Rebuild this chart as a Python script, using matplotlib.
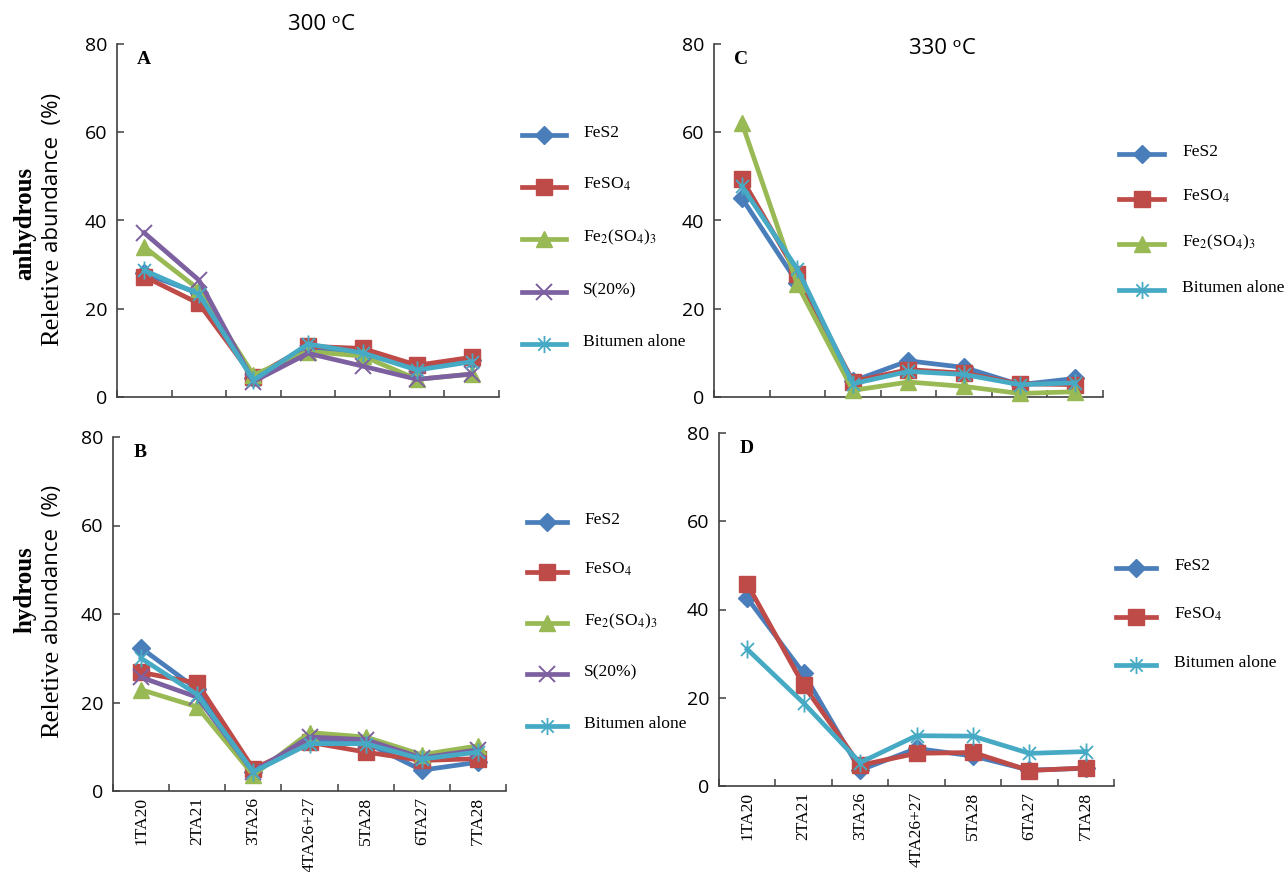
import numpy as np
import matplotlib
matplotlib.use("Agg")
import matplotlib.pyplot as plt
from matplotlib.path import Path
from matplotlib.lines import Line2D

plt.rcParams['mathtext.fontset'] = 'stix'

# ---- data -------------------------------------------------------------
categories = ['1TA20', '2TA21', '3TA26', '4TA26+27', '5TA28', '6TA27', '7TA28']

# 300 °C, anhydrous (A)
fes2_a = [28.0, 23.5, 4.2, 11.0, 9.9, 6.5, 8.4]
feso4_a = [27.3, 21.2, 4.5, 11.5, 11.0, 7.2, 9.0]
fe2so43_a = [34.0, 24.4, 5.0, 10.3, 9.3, 4.0, 5.2]
s20_a = [37.2, 26.5, 3.5, 9.9, 7.0, 4.0, 5.2]
bitumen_a = [28.7, 23.3, 3.8, 12.0, 10.0, 6.1, 8.0]

# 300 °C, hydrous (B)
fes2_b = [32.3, 23.0, 4.3, 11.8, 11.0, 4.7, 6.5]
feso4_b = [26.8, 24.4, 5.0, 11.0, 8.8, 6.9, 7.3]
fe2so43_b = [22.9, 19.0, 3.6, 13.2, 12.2, 8.2, 10.2]
s20_b = [25.7, 21.2, 4.3, 12.2, 11.6, 7.5, 9.3]
bitumen_b = [30.0, 21.8, 4.3, 10.7, 10.7, 7.2, 8.8]

# 330 °C, anhydrous (C)
fes2_c = [45.1, 25.9, 3.6, 8.2, 6.7, 2.8, 4.2]
feso4_c = [49.5, 27.8, 3.5, 6.2, 5.4, 3.0, 2.8]
fe2so43_c = [62.2, 25.5, 1.5, 3.4, 2.4, 0.8, 1.2]
bitumen_c = [47.8, 29.0, 3.0, 5.8, 5.1, 2.8, 3.2]

# 330 °C, hydrous (D)
fes2_d = [42.6, 25.5, 3.6, 8.5, 6.8, 3.6, 4.0]
feso4_d = [45.8, 22.8, 4.7, 7.4, 7.6, 3.5, 4.1]
bitumen_d = [31.0, 18.8, 5.3, 11.4, 11.3, 7.4, 7.8]

y_ticks = [0, 20, 40, 60, 80]

# ---- styles -----------------------------------------------------------
star = Path([(0, -1), (0, 1), (-0.72, -0.72), (0.72, 0.72), (-0.72, 0.72), (0.72, -0.72)],
            [Path.MOVETO, Path.LINETO, Path.MOVETO, Path.LINETO, Path.MOVETO, Path.LINETO])

styles = {
    'FeS2': dict(color='#4A7EBB', marker='D', ms=9.5, mew=1.0),
    'FeSO4': dict(color='#BE4B48', marker='s', ms=11.5, mew=1.0),
    'Fe2(SO4)3': dict(color='#98B954', marker='^', ms=11.5, mew=1.0),
    'S(20%)': dict(color='#7D60A0', marker='x', ms=12, mew=1.4),
    'Bitumen alone': dict(color='#46AAC5', marker=star, ms=13, mew=1.3),
}
labels = {
    'FeS2': 'FeS2',
    'FeSO4': r'FeSO$_4$',
    'Fe2(SO4)3': r'Fe$_2$(SO$_4$)$_3$',
    'S(20%)': 'S(20%)',
    'Bitumen alone': 'Bitumen alone',
}

W, H = 1286, 872
SANS = ['Open Sans', 'DejaVu Sans']
SERIF = ['Liberation Serif', 'DejaVu Serif']
LW = 3.4


def rect(l, r, t, b):
    return [l / W, 1 - b / H, (r - l) / W, (b - t) / H]


def fx(x):
    return x / W


def fy(y):
    return 1 - y / H


fig = plt.figure(figsize=(W / 100, H / 100), dpi=100)


def legend_column(keys, line_x0, line_x1, text_x, rows_y):
    for key, y in zip(keys, rows_y):
        st = styles[key]
        xm = 0.5 * (line_x0 + line_x1)
        fig.add_artist(Line2D([fx(line_x0), fx(xm), fx(line_x1)], [fy(y)] * 3,
                              transform=fig.transFigure, color=st['color'], lw=LW,
                              marker=st['marker'], ms=st['ms'] * 0.95, mfc=st['color'],
                              mec=st['color'], mew=st['mew'], markevery=[1]))
        fig.text(fx(text_x), fy(y + 2), labels[key], ha='left', va='baseline',
                 family=SERIF, fontsize=12.6)


def panel(box, series, letter, show_x):
    ax = fig.add_axes(rect(*box))
    x = np.arange(len(categories)) + 0.5
    for key, vals in series:
        st = styles[key]
        ax.plot(x, vals, color=st['color'], lw=LW, marker=st['marker'], ms=st['ms'],
                mfc=st['color'], mec=st['color'], mew=st['mew'], label=labels[key],
                clip_on=False, zorder=3)
    ax.set_xlim(0, len(categories))
    ax.set_ylim(0, 80)
    ax.set_yticks(y_ticks)
    ax.set_xticks(np.arange(len(categories) + 1))
    ax.set_xticklabels([])
    ax.set_xticks(x, minor=True)
    if show_x:
        ax.set_xticklabels(categories, minor=True, rotation=90, family=SERIF, fontsize=12.6)
    ax.tick_params(axis='x', which='minor', length=0, pad=4)
    ax.tick_params(axis='both', which='major', direction='in', length=5, width=1.1,
                   color='#404040')
    ax.tick_params(axis='y', labelsize=14, pad=7)
    for lab in ax.get_yticklabels():
        lab.set_family(SANS)
    for side in ('top', 'right'):
        ax.spines[side].set_visible(False)
    for side in ('left', 'bottom'):
        ax.spines[side].set_color('#404040')
        ax.spines[side].set_linewidth(1.2)
    ax.text(0.07, 0.955, letter, transform=ax.transAxes, ha='center', va='center',
            family=SERIF, weight='bold', fontsize=14)
    return ax


keys5 = ['FeS2', 'FeSO4', 'Fe2(SO4)3', 'S(20%)', 'Bitumen alone']

panel((117, 499, 44, 397),
      list(zip(keys5, [fes2_a, feso4_a, fe2so43_a, s20_a, bitumen_a])), 'A', False)
legend_column(keys5, 522, 566, 583, [135, 187, 239, 292, 344])

panel((113, 506, 437, 791),
      list(zip(keys5, [fes2_b, feso4_b, fe2so43_b, s20_b, bitumen_b])), 'B', True)
legend_column(keys5, 527, 567, 584, [522, 572, 623, 674, 726])

keys_c = ['FeS2', 'FeSO4', 'Fe2(SO4)3', 'Bitumen alone']
panel((714, 1103, 44, 397),
      list(zip(keys_c, [fes2_c, feso4_c, fe2so43_c, bitumen_c])), 'C', False)
legend_column(keys_c, 1119, 1164, 1182, [154, 199, 244, 290])

keys_d = ['FeS2', 'FeSO4', 'Bitumen alone']
panel((719, 1114, 433, 786),
      list(zip(keys_d, [fes2_d, feso4_d, bitumen_d])), 'D', True)
legend_column(keys_d, 1116, 1156, 1174, [568, 617, 665])

# temperature headings
fig.text(fx(321), fy(25), '300 \u1d52C', ha='center', va='center', family=SANS, fontsize=16)
fig.text(fx(942), fy(49), '330 \u1d52C', ha='center', va='center', family=SANS, fontsize=16)


def row_label(word, y_center, y_split):
    fig.text(fx(25), fy(y_center), word, rotation=90, ha='center', va='center',
             family=SERIF, weight='bold', fontsize=18)
    fig.text(fx(58), fy(y_split), 'Reletive', rotation=90, rotation_mode='anchor',
             ha='right', va='baseline', family=SERIF, fontsize=19)
    fig.text(fx(58), fy(y_split - 6), 'abundance  (%)', rotation=90, rotation_mode='anchor',
             ha='left', va='baseline', family=SANS, fontsize=16)


row_label('anhydrous', 223, 258)
row_label('hydrous', 590, 650)

fig.savefig('out.png', dpi=100)
